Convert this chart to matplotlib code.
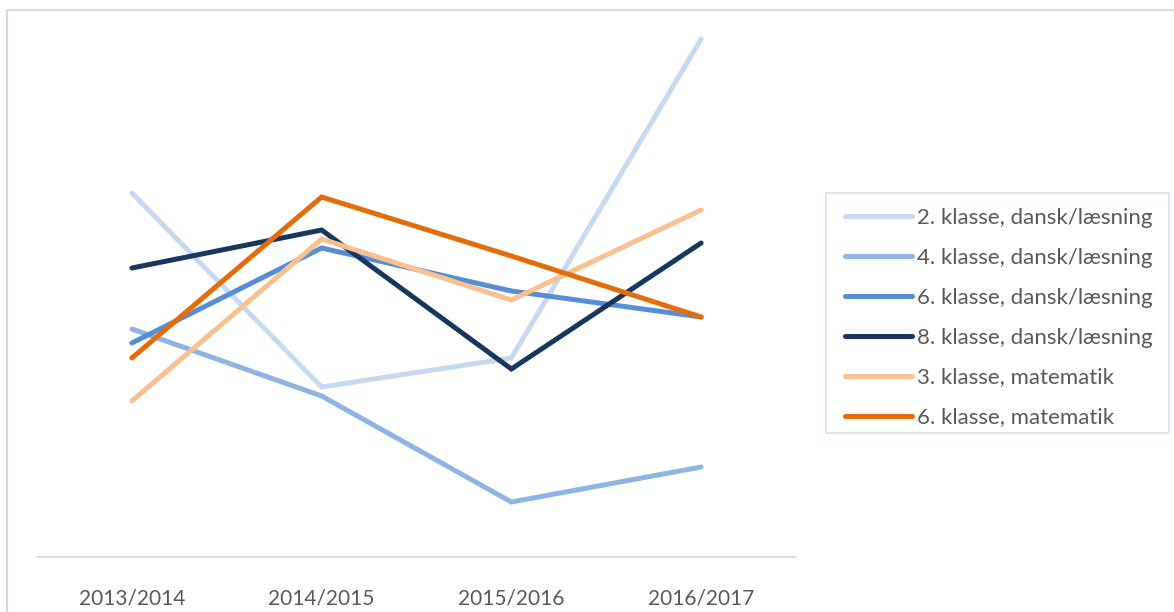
import matplotlib
matplotlib.use("Agg")
import matplotlib.pyplot as plt
from matplotlib.patches import Rectangle
from matplotlib.lines import Line2D

years = ["2013/2014", "2014/2015", "2015/2016", "2016/2017"]
series_names = [
    "2. klasse, dansk/læsning",
    "4. klasse, dansk/læsning",
    "6. klasse, dansk/læsning",
    "8. klasse, dansk/læsning",
    "3. klasse, matematik",
    "6. klasse, matematik",
]
kl2_dansk = [364, 170, 199, 518]
kl4_dansk = [228, 161, 55, 90]
kl6_dansk = [214, 309, 266, 240]
kl8_dansk = [289, 327, 188, 314]
kl3_mat = [156, 318, 257, 347]
kl6_mat = [199, 360, 301, 240]
values = [kl2_dansk, kl4_dansk, kl6_dansk, kl8_dansk, kl3_mat, kl6_mat]
colors = ["#C6D9F1", "#8EB4E3", "#558ED5", "#17375E", "#FAC090", "#E46C0A"]

W, H = 1174, 612
fig = plt.figure(figsize=(W / 100, H / 100), dpi=100)
FONT = "Lato"
TXT = "#595959"

# outer chart border (top and left visible)
fig.add_artist(Line2D([7 / W, 7 / W], [0, 1 - 9.5 / H], transform=fig.transFigure,
                      color="#D9D9D9", lw=1.5))
fig.add_artist(Line2D([7 / W, 1], [1 - 9.5 / H, 1 - 9.5 / H], transform=fig.transFigure,
                      color="#D9D9D9", lw=1.5))

left, right, bottom, top = 37, 796, 557, 17
ax = fig.add_axes([left / W, 1 - bottom / H, (right - left) / W, (bottom - top) / H])
x = list(range(len(years)))
for name, vals, c in zip(series_names, values, colors):
    ax.plot(x, vals, color=c, lw=3.6, label=name, solid_capstyle="round",
            solid_joinstyle="miter")
ax.set_xlim(-0.5, 3.5)
ax.set_ylim(0, bottom - top)
for s in ["top", "right", "left"]:
    ax.spines[s].set_visible(False)
ax.spines["bottom"].set_color("#D9D9D9")
ax.spines["bottom"].set_linewidth(1.2)
ax.set_yticks([])
ax.set_xticks(x)
ax.set_xticklabels(years, fontname=FONT, fontsize=15, color=TXT)
ax.tick_params(axis="x", length=0, pad=23)

# legend frame
fig.add_artist(Rectangle((826 / W, 1 - 433 / H), (1169 - 826) / W, (433 - 193) / H,
                         transform=fig.transFigure, fill=False,
                         edgecolor="#D6E0F0", lw=1.2))
leg = fig.legend(loc="upper left", bbox_to_anchor=(845 / W, 1 - 208 / H),
                 prop={"family": FONT, "size": 16}, labelcolor=TXT,
                 frameon=False, handlelength=3.0, handletextpad=0.22,
                 labelspacing=0.895, borderpad=0, borderaxespad=0)

fig.savefig("out.png", dpi=100)
